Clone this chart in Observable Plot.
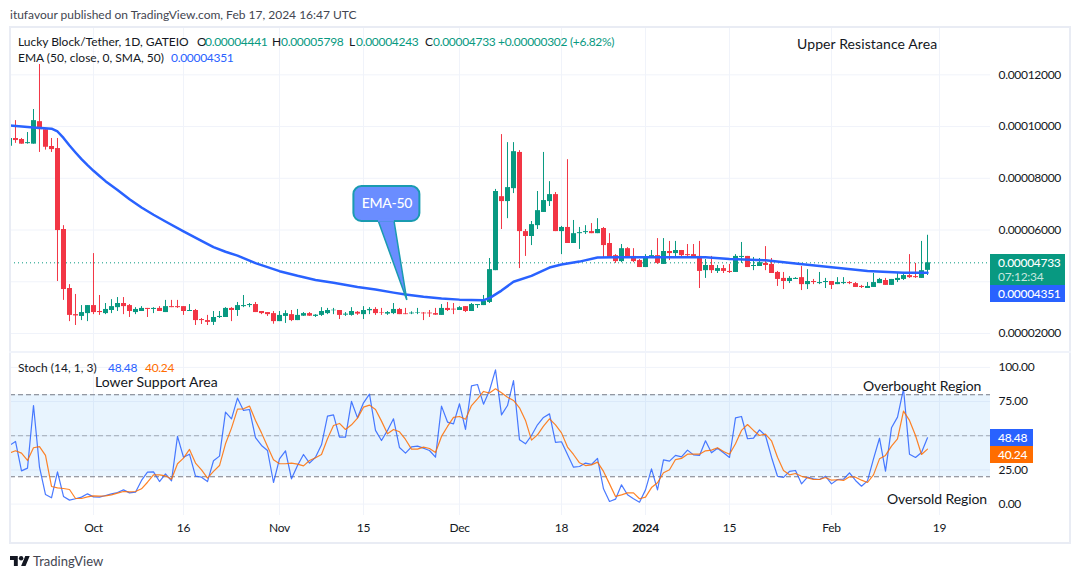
<!DOCTYPE html>
<html><head><meta charset="utf-8">
<script src="https://cdn.jsdelivr.net/npm/d3@7"></script>
<script src="https://cdn.jsdelivr.net/npm/@observablehq/plot@0.6"></script>
<style>
html,body{margin:0;padding:0;background:#fff;}
#page{position:relative;width:1080px;height:579px;overflow:hidden;font-family:Lato,"Noto Sans",sans-serif;color:#131722;}
#page svg{position:absolute;left:0;display:block;background:transparent;}
.t{position:absolute;white-space:nowrap;transform:translateY(-50%);line-height:1;}
.box{position:absolute;}
</style></head><body><div id="page"></div>
<script>
// Prices are in units of 0.00001 USDT; one candle per day, from 2023-09-17 to 2024-02-17
const opens=[9.24,9.54,9.50,9.34,9.32,10.19,9.88,9.23,9.15,6.02,
3.74,2.73,2.66,2.77,3.08,2.85,2.77,2.89,3.00,3.16,
3.08,2.81,2.85,2.97,2.93,2.97,2.81,3.04,3.04,3.04,
2.85,2.89,2.54,2.50,2.43,2.62,2.62,2.97,2.89,3.04,
3.08,3.12,2.85,2.81,2.77,2.46,2.66,2.73,2.50,2.67,
2.77,2.66,2.70,2.77,2.88,2.89,2.71,2.70,2.82,2.73,
2.88,2.93,2.81,2.75,2.77,2.93,2.76,2.76,2.79,2.79,
2.79,2.77,2.70,2.97,2.94,2.89,3.04,2.85,3.08,3.08,
3.20,4.43,7.29,7.10,7.60,9.00,5.94,5.75,6.17,6.68,
7.10,7.37,5.94,6.10,5.48,5.86,5.90,5.94,5.86,6.06,
5.48,5.01,4.78,5.28,4.98,4.82,4.55,4.90,5.01,4.67,
5.17,5.09,5.21,5.05,5.05,4.98,4.43,4.63,4.40,4.51,
4.40,4.36,4.94,4.98,4.59,4.59,4.71,4.67,4.36,4.13,
4.01,4.09,4.16,3.89,4.01,3.93,3.97,4.01,3.89,3.93,
3.97,3.93,3.82,3.74,3.78,3.93,4.05,3.86,4.05,4.09,
4.24,4.20,4.13,4.441];
const highs=[9.54,10.23,9.54,9.77,10.66,12.4,9.88,9.54,9.54,6.17,
3.89,3.51,3.08,3.08,5.09,3.47,3.16,3.31,3.39,3.39,
3.12,3.00,3.04,2.97,3.00,3.04,3.28,3.28,3.28,3.04,
3.12,2.93,2.58,2.70,2.85,2.85,3.00,3.00,3.20,3.47,
3.16,3.20,2.85,2.81,2.85,2.85,2.88,2.89,2.93,2.81,
2.81,2.73,3.00,2.97,2.97,2.89,2.81,3.00,2.85,3.04,
3.00,3.00,2.97,2.85,3.16,2.97,2.97,2.84,2.97,2.81,
2.89,2.97,3.12,3.20,3.16,3.04,3.04,3.16,3.12,3.47,
4.90,7.57,9.69,9.38,9.38,9.07,6.02,6.33,7.49,9.00,
7.87,7.45,6.14,8.72,6.37,6.10,6.17,6.25,6.44,6.10,
5.86,5.05,5.44,5.32,5.28,4.86,5.05,5.21,5.67,5.67,
5.56,5.56,5.21,5.44,5.44,5.56,4.86,4.98,4.63,4.63,
4.67,5.05,5.52,4.98,4.94,4.90,5.36,4.90,4.40,4.36,
4.20,4.16,4.59,4.47,4.09,4.36,4.13,4.01,4.16,4.16,
4.01,3.97,3.86,3.97,4.32,4.13,4.13,4.09,4.36,4.36,
5.05,4.71,5.56,5.798];
const lows=[9.24,9.35,9.32,9.32,9.32,9.00,9.09,9.00,4.01,3.28,
2.46,2.31,2.50,2.46,2.73,2.70,2.73,2.77,2.85,2.73,
2.62,2.73,2.85,2.62,2.77,2.85,2.81,3.00,2.97,2.70,
2.85,2.31,2.35,2.31,2.31,2.58,2.62,2.46,2.66,3.00,
3.00,2.81,2.73,2.66,2.36,2.46,2.39,2.46,2.50,2.66,
2.66,2.62,2.66,2.73,2.73,2.54,2.66,2.67,2.70,2.54,
2.73,2.70,2.70,2.70,2.73,2.73,2.73,2.73,2.73,2.50,
2.62,2.70,2.70,2.85,2.73,2.89,2.81,2.85,2.97,3.08,
3.16,4.43,6.02,6.44,7.41,4.51,4.98,5.40,6.02,6.68,
6.91,5.94,5.05,5.48,5.48,5.25,5.83,5.86,5.86,4.94,
4.94,4.71,4.74,4.94,4.74,4.55,4.55,4.90,4.67,4.67,
4.82,4.94,4.94,4.94,4.90,3.74,4.13,4.32,4.32,4.32,
4.32,4.36,4.71,4.55,4.43,4.59,4.43,4.32,3.82,3.70,
3.93,4.09,3.66,3.70,3.89,3.89,3.74,3.70,3.89,3.89,
3.89,3.78,3.74,3.74,3.78,3.93,3.86,3.86,3.97,4.05,
4.13,4.13,4.13,4.243];
const closes=[9.54,9.46,9.32,9.38,10.23,9.88,9.20,9.11,5.98,3.70,
2.70,2.68,2.81,3.08,2.81,2.81,2.93,3.04,3.16,3.04,
2.85,2.93,2.97,2.93,2.97,2.85,3.04,3.00,3.00,2.85,
2.89,2.50,2.50,2.43,2.62,2.66,2.97,2.89,3.08,3.08,
3.12,2.81,2.77,2.73,2.46,2.70,2.77,2.50,2.70,2.77,
2.67,2.71,2.85,2.89,2.90,2.70,2.75,2.85,2.75,2.89,
2.93,2.77,2.79,2.81,2.93,2.73,2.73,2.79,2.81,2.76,
2.76,2.71,2.97,2.89,2.91,3.00,2.85,3.12,3.12,3.26,
4.47,7.49,7.10,7.64,9.03,5.94,5.75,6.21,6.75,7.14,
7.37,5.94,6.10,5.48,5.86,5.90,5.94,5.86,6.02,5.40,
4.94,4.78,5.28,4.94,4.78,4.55,4.94,5.01,4.71,5.17,
5.09,5.21,5.01,5.01,4.90,4.40,4.63,4.43,4.51,4.40,
4.36,4.98,4.98,4.55,4.63,4.74,4.63,4.32,4.09,4.01,
4.13,4.13,3.89,4.01,3.97,3.97,4.01,3.86,3.97,3.97,
3.93,3.78,3.78,3.82,3.97,4.09,3.86,4.09,4.13,4.24,
4.16,4.16,4.43,4.733];
// EMA-50 read at these candle numbers
const emaCandles=[0,4,7,8,9,10,11,12,13,14,15,16,18,20,22,24,26,29,32,34,36,38,41,45,48,51,54,58,61,64,66,69,72,75,79,80,82,84,87,90,92,95,98,101,106,110,116,120,126,131,137,143,149,153];
const emaValues=[10.04,9.96,9.92,9.81,9.56,9.27,9.00,8.74,8.51,8.29,8.09,7.89,7.55,7.19,6.87,6.59,6.33,5.95,5.58,5.34,5.16,5.01,4.72,4.41,4.23,4.07,3.96,3.80,3.70,3.58,3.51,3.42,3.35,3.31,3.29,3.37,3.66,4.00,4.23,4.55,4.67,4.78,4.94,4.95,4.95,4.95,4.95,4.88,4.83,4.71,4.56,4.42,4.35,4.351];
const stochK=[42.9,45.8,24.3,26.3,72.1,27.0,7.0,4.6,23.6,5.6,
2.9,3.9,5.1,7.5,5.3,5.1,6.3,7.5,8.5,10.4,
8.2,8.7,17.3,23.4,23.6,16.5,22.1,17.0,49.5,34.3,
36.5,20.4,19.7,16.5,31.7,35.1,67.3,62.4,77.5,68.5,
69.2,48.7,42.9,39.2,15.8,33.1,39.0,18.5,28.2,36.3,
30.0,34.3,43.4,64.3,65.3,49.0,49.0,75.1,63.1,74.1,
80.4,53.9,46.5,53.9,62.4,41.4,37.3,41.9,42.4,40.9,
39.2,34.3,71.7,60.0,58.7,73.4,54.6,86.5,87.5,73.1,
83.1,98.2,65.3,72.1,90.4,47.0,44.1,50.2,58.0,63.4,
66.0,45.1,45.6,36.3,27.0,27.5,30.0,29.0,33.4,11.2,
1.9,3.6,14.1,6.8,3.9,1.4,10.4,25.8,10.4,32.4,
31.4,35.6,34.6,39.5,36.0,35.6,46.3,37.5,40.9,37.5,
34.1,63.1,64.1,47.8,48.2,54.3,50.2,34.3,20.4,19.5,
23.9,24.6,14.8,19.7,18.5,18.0,20.4,14.8,18.0,18.2,
22.9,17.3,13.1,17.0,33.1,48.2,24.1,55.8,63.6,84.3,
36.5,34.1,37.8,48.48];
const stochD=[37.3,39.0,37.3,31.9,41.2,42.1,35.6,12.9,11.9,11.4,
10.7,4.1,4.1,5.3,6.0,5.8,6.0,6.8,8.0,9.2,
9.0,9.2,11.2,16.0,21.4,21.4,20.7,18.2,29.5,33.6,
40.0,30.0,25.1,19.0,23.9,28.2,44.1,55.6,69.5,69.7,
71.7,61.2,52.1,42.1,32.4,29.5,29.5,30.0,29.2,28.0,
31.9,33.9,36.3,47.8,57.5,59.0,54.6,58.0,62.9,70.9,
72.4,69.2,60.7,51.4,54.6,52.9,47.3,40.2,40.2,41.7,
40.7,37.8,49.5,56.8,63.4,64.1,62.1,72.1,77.0,82.4,
81.2,84.3,81.4,78.2,75.8,70.4,61.2,46.8,50.7,57.0,
62.4,58.0,52.1,41.7,36.3,30.2,28.2,28.7,30.7,23.9,
14.8,5.6,6.8,8.2,8.2,3.9,5.1,12.1,15.6,22.9,
25.1,32.6,33.4,36.5,36.5,36.5,39.0,39.5,41.2,38.5,
36.5,44.1,53.9,58.2,53.9,50.2,51.2,46.3,34.3,24.6,
21.4,22.4,20.4,19.2,18.0,18.0,19.5,17.5,17.8,17.3,
20.0,19.7,17.5,15.8,21.4,33.1,35.6,42.4,47.8,68.0,
61.2,50.2,36.3,40.24];
const firstDay="2023-09-17";
const lastPrice=4.733;
const priceGrid=[2,4,6,8,10,12];
const priceTicks=[2,6,8,10,12];
const stochGrid=[0,25,50,75,100];
const stochTicks=[0,25,75,100];
const tickDays=["2023-10-01","2023-10-16","2023-11-01","2023-11-15","2023-12-01","2023-12-18","2024-01-01","2024-01-15","2024-02-01","2024-02-19"];
const tickLabels=["Oct","16","Nov","15","Dec","18","2024","15","Feb","19"];
const GREEN="#089981",RED="#f23645",BLUE="#2962ff",ORANGE="#ff6d00",GRID="#f0f3fa",FONT="Lato, 'Noto Sans', sans-serif";

const day0=new Date(firstDay+"T00:00:00Z");
const dayAt=i=>new Date(+day0+i*864e5);
const candles=opens.map((o,i)=>({date:dayAt(i),o,h:highs[i],l:lows[i],c:closes[i],color:closes[i]>=o?GREEN:RED}));
const ema=emaValues.map((v,i)=>({date:dayAt(emaCandles[i]),v}));
const k=stochK.map((v,i)=>({date:dayAt(i),v}));
const d=stochD.map((v,i)=>({date:dayAt(i),v}));
const ticks=tickDays.map((s,i)=>({date:new Date(s+"T00:00:00Z"),label:tickLabels[i]}));
const xDomain=[dayAt(0.1667),dayAt(163.5)];
const xDef={type:"utc",domain:xDomain,range:[10,990]};
const plotStyle={fontFamily:FONT,fontSize:"12px",color:"#131722",background:"transparent",letterSpacing:"-0.3px"};

// callout anchored to the chart: box and pointer, in days and prices
const callout={x1:dayAt(57.4),x2:dayAt(68.4),y1:6.33,y2:7.68,text:"EMA-50"};
const tail=[[61.5,6.36],[64.15,6.36],[66.3,3.28]];

const pricePlot=Plot.plot({
  width:1080,height:325,marginTop:0,marginBottom:0,marginLeft:10,marginRight:90,
  style:plotStyle,x:xDef,
  y:{domain:[1.266,13.83]},
  marks:[
    Plot.ruleY(priceGrid,{stroke:GRID,strokeWidth:1}),
    Plot.ruleX(ticks,{x:"date",stroke:GRID,strokeWidth:1}),
    Plot.axisY({anchor:"right",ticks:priceTicks,tickSize:0,tickPadding:8,label:null,tickFormat:v=>(v*1e-5).toFixed(8)}),
    Plot.axisX({ticks:[],label:null,tickSize:0}),
    Plot.ruleY([lastPrice],{stroke:GREEN,strokeWidth:1,strokeDasharray:"1,3"}),
    Plot.ruleX(candles,{x:"date",y1:"l",y2:"h",stroke:"color",strokeWidth:1,clip:true}),
    Plot.ruleX(candles,{x:"date",y1:"o",y2:"c",stroke:"color",strokeWidth:5,clip:true}),
    Plot.line(ema,{x:"date",y:"v",stroke:BLUE,strokeWidth:2.5,clip:true}),
    (idx,{x,y})=>{
      const p=d3.create("svg:path");
      p.attr("d","M"+tail.map(([i,v])=>x(dayAt(i))+","+y(v)).join("L")+"Z")
       .attr("fill","#6a8dff").attr("stroke","#1a9bb0").attr("stroke-width",1.5);
      return p.node();
    },
    Plot.rect([callout],{x1:"x1",x2:"x2",y1:"y1",y2:"y2",fill:"#6a8dff",stroke:"#1a9bb0",strokeWidth:2,rx:8}),
    (idx,{x,y})=>{
      const p=d3.create("svg:path");
      p.attr("d","M"+x(dayAt(tail[0][0]))+","+y(tail[0][1])+"L"+x(dayAt(tail[1][0]))+","+y(tail[1][1]))
       .attr("stroke","#6a8dff").attr("stroke-width",3);
      return p.node();
    },
    Plot.text([callout],{x:dayAt(62.9),y:7.02,text:"text",fill:"#fff",fontSize:14,fontWeight:500})
  ]
});
pricePlot.style.top="27px";

const stochPlot=Plot.plot({
  width:1080,height:191,marginTop:0,marginBottom:28,marginLeft:10,marginRight:90,
  style:plotStyle,x:xDef,
  y:{domain:[-8.34,110.9]},
  marks:[
    Plot.ruleY(stochGrid,{stroke:GRID,strokeWidth:1}),
    Plot.ruleX(ticks,{x:"date",stroke:GRID,strokeWidth:1}),
    Plot.rectY([{a:20,b:80}],{x1:xDomain[0],x2:xDomain[1],y1:"a",y2:"b",fill:"#2196f3",fillOpacity:0.1}),
    Plot.ruleY([20,80],{stroke:"#787b86",strokeWidth:1,strokeDasharray:"5,3"}),
    Plot.ruleY([50],{stroke:"#787b86",strokeOpacity:0.6,strokeWidth:1,strokeDasharray:"5,3"}),
    Plot.axisY({anchor:"right",ticks:stochTicks,tickSize:0,tickPadding:8,label:null,tickFormat:v=>v.toFixed(2)}),
    Plot.axisX({ticks:[],label:null,tickSize:0}),
    Plot.line(k,{x:"date",y:"v",stroke:"#2962ff",strokeOpacity:0.85,strokeWidth:1.2,clip:true}),
    Plot.line(d,{x:"date",y:"v",stroke:ORANGE,strokeOpacity:0.85,strokeWidth:1.2,clip:true}),
    Plot.text(ticks.filter(t=>t.label!=="2024"),{x:"date",text:"label",frameAnchor:"bottom",dy:16,fill:"#131722",fontSize:12}),
    Plot.text(ticks.filter(t=>t.label==="2024"),{x:"date",text:"label",frameAnchor:"bottom",dy:16,fill:"#131722",fontSize:12,fontWeight:"bold"})
  ]
});
stochPlot.style.top="352px";

const page=document.getElementById("page");
page.append(pricePlot,stochPlot);
const box=(l,t,w,h,bg)=>{const e=document.createElement("div");e.className="box";e.style.cssText=`left:${l}px;top:${t}px;width:${w}px;height:${h}px;background:${bg}`;page.append(e);return e;};
const txt=(s,x,y,o={})=>{const e=document.createElement("div");e.className="t";e.textContent=s;e.style.left=x+"px";e.style.top=y+"px";e.style.fontSize=(o.size||12)+"px";e.style.color=o.color||"#131722";if(o.w)e.style.fontWeight=o.w;e.style.letterSpacing=(o.ls===undefined?-0.3:o.ls)+"px";page.append(e);return e;};

// frame
box(9,26,1062,2,"#e9ecf4");box(9,542,1062,2,"#e9ecf4");box(9,26,2,518,"#e9ecf4");box(1069,26,2,518,"#e9ecf4");box(9,351,1062,2,"#f0f3fa");

// price tags
box(990,254,75,31,GREEN);box(990,285,75,17,BLUE);
txt("0.00004733",998,263,{color:"#fff",w:500});
txt("07:12:34",998,277,{color:"#c5e6df"});
txt("0.00004351",998,294,{color:"#fff",w:500});
box(990,429,43,17,BLUE);box(990,446,43,17,ORANGE);
txt("48.48",998,438,{color:"#fff",w:500});
txt("40.24",998,455,{color:"#fff",w:500});

// header and legends
txt("itufavour published on TradingView.com, Feb 17, 2024 16:47 UTC",10,15,{color:"#434651",ls:0});
txt("Lucky Block/Tether, 1D, GATEIO",18,42,{ls:-0.02});
[["O",197,"0.00004441",205],["H",272,"0.00005798",281],["L",349,"0.00004243",356],["C",425,"0.00004733",433]].forEach(([a,x1,b,x2])=>{txt(a,x1,42);txt(b,x2,42,{color:GREEN});});
txt("+0.00000302 (+6.82%)",498,42,{color:GREEN});
txt("EMA (50, close, 0, SMA, 50)",18,58,{ls:0});
txt("0.00004351",171,58,{color:BLUE});
txt("Stoch (14, 1, 3)",18,368,{ls:0});
txt("48.48",108,368,{color:BLUE});
txt("40.24",145,368,{color:ORANGE});
// annotations
txt("Upper Resistance Area",797,44,{size:14,ls:0.1});
txt("Lower Support Area",95,382,{size:14,ls:0.05});
txt("Overbought Region",863,386,{size:14,ls:-0.1});
txt("Oversold Region",887,499,{size:14,ls:-0.1});
// brand
const logo=document.createElementNS("http://www.w3.org/2000/svg","svg");
logo.setAttribute("viewBox","0 4 36 18");logo.setAttribute("width","20");logo.setAttribute("height","10");
logo.style.cssText="left:10px;top:556px;";
logo.innerHTML='<path fill="#131722" d="M14 22H7V11H0V4h14v18zM28 22h-8l7.5-18h8L28 22z"/><circle fill="#131722" cx="20" cy="8" r="4"/>';
page.append(logo);
txt("TradingView",33,561,{size:13,color:"#434651",ls:0});
</script></body></html>
